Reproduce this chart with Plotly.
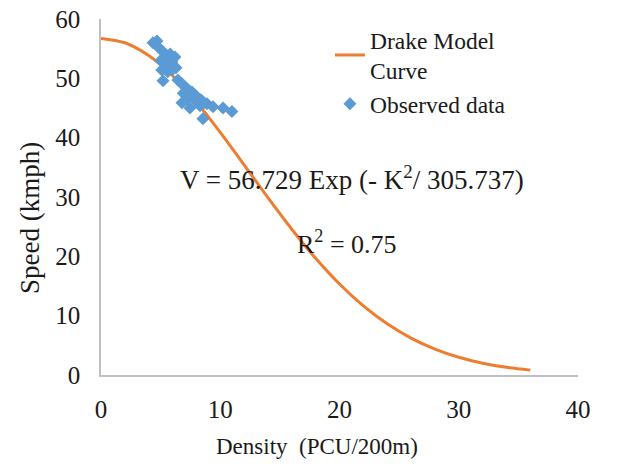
import plotly.graph_objects as go

# Drake model curve
curve_k = [0, 2, 4, 6, 8, 10, 12, 14, 16, 18, 20, 22, 24, 26, 28, 30, 32, 34, 36]
curve_v = [56.73, 55.99, 53.84, 50.43, 46.01, 40.90, 35.42, 29.88, 24.56, 19.66,
           15.33, 11.65, 8.62, 6.22, 4.37, 2.99, 1.99, 1.29, 0.82]

# Observed data (density, speed)
obs_k = [4.36, 4.69, 4.78, 5.2, 5.8, 6.2, 5.36, 5.95, 5.45, 6.29, 5.6, 5.1, 5.2,
         6.45, 6.79, 7.04, 7.29, 7.63, 7.46, 7.88, 8.13, 8.38, 7.96, 8.63, 8.89,
         8.3, 6.79, 7.46, 9.39, 10.23, 10.98, 8.55, 5.0, 5.7, 6.0, 6.9, 7.2]
obs_v = [56.0, 56.3, 55.3, 54.5, 54.1, 53.6, 53.2, 52.8, 52.1, 51.8, 51.1, 51.4, 49.6,
         49.7, 49.1, 48.6, 48.1, 47.7, 47.0, 47.2, 46.7, 46.4, 46.2, 45.9, 45.7,
         45.4, 45.9, 45.0, 45.2, 45.0, 44.4, 43.2, 53.0, 52.5, 51.5, 47.5, 46.5]

x_ticks = [0, 10, 20, 30, 40]
y_ticks = [0, 10, 20, 30, 40, 50, 60]

FONT = "Liberation Serif"
TXT = "#1a1a1a"
FS_TICK = 25
FS_LEG = 23.5
FS_XTITLE = 23
FS_YTITLE = 27
FS_EQ = 27
FS_R2 = 26

fig = go.Figure()
fig.add_trace(go.Scatter(
    x=curve_k, y=curve_v, mode="lines", name="Drake Model<br>Curve",
    line=dict(color="#ED7D31", width=3, shape="spline"),
))
fig.add_trace(go.Scatter(
    x=obs_k, y=obs_v, mode="markers", name="Observed data",
    marker=dict(symbol="diamond", color="#5B9BD5", size=10, line=dict(width=0)),
))

fig.update_layout(
    width=631, height=469,
    margin=dict(l=101, r=53, t=19, b=94, autoexpand=False),
    paper_bgcolor="white", plot_bgcolor="white",
    font=dict(family=FONT, size=FS_LEG, color=TXT),
    showlegend=True,
    legend=dict(x=0.48, y=1.003, xanchor="left", yanchor="top",
                bgcolor="rgba(0,0,0,0)", font=dict(size=FS_LEG, family=FONT, color=TXT),
                tracegroupgap=0, itemwidth=30),
    xaxis=dict(range=[0, 40], tickvals=x_ticks, showgrid=False, zeroline=False,
               showline=True, linecolor="#BFBFBF", linewidth=1.5, automargin=False,
               ticks="", ticklabelstandoff=11,
               tickfont=dict(family=FONT, size=FS_TICK, color=TXT)),
    yaxis=dict(range=[0, 60], tickvals=y_ticks, showgrid=False, zeroline=False,
               showline=True, linecolor="#BFBFBF", linewidth=1.5, automargin=False,
               ticks="", ticklabelstandoff=14,
               tickfont=dict(family=FONT, size=FS_TICK, color=TXT)),
    annotations=[
        dict(text="V = 56.729 Exp (- K<sup>2</sup>/ 305.737)", x=0.526, y=0.553,
             xref="paper", yref="paper", showarrow=False,
             xanchor="center", yanchor="middle",
             font=dict(family=FONT, size=FS_EQ, color=TXT)),
        dict(text="R<sup>2</sup> = 0.75", x=0.516, y=0.372,
             xref="paper", yref="paper", showarrow=False,
             xanchor="center", yanchor="middle",
             font=dict(family=FONT, size=FS_R2, color=TXT)),
        dict(text="Density  (PCU/200m)", x=0.453, y=-0.202,
             xref="paper", yref="paper", showarrow=False,
             xanchor="center", yanchor="middle",
             font=dict(family=FONT, size=FS_XTITLE, color=TXT)),
        dict(text="Speed (kmph)", x=-0.149, y=0.441, textangle=-90,
             xref="paper", yref="paper", showarrow=False,
             xanchor="center", yanchor="middle",
             font=dict(family=FONT, size=FS_YTITLE, color=TXT)),
    ],
)

fig.write_html("out.html")
